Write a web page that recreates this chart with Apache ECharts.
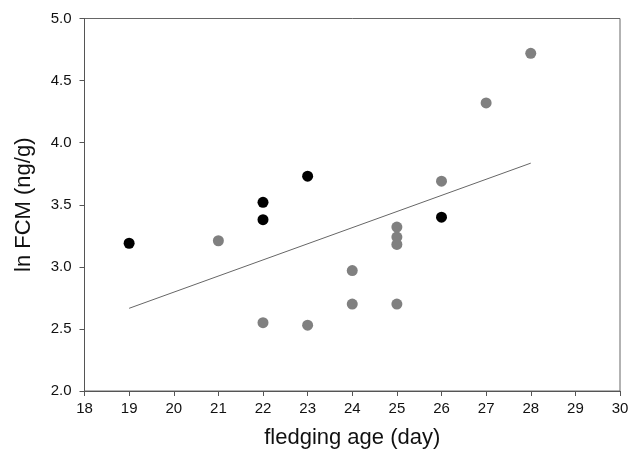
<!DOCTYPE html>
<html><head><meta charset="utf-8">
<script src="https://cdn.jsdelivr.net/npm/echarts@6/dist/echarts.min.js"></script>
<style>html,body{margin:0;padding:0;background:#fff}#c{width:637px;height:449px}</style>
</head><body><div id="c"></div>
<script>
var blackX = [19, 22, 22, 23, 26];
var blackY = [3.19, 3.52, 3.38, 3.73, 3.40];
var grayX = [21, 22, 23, 24, 24, 25, 25, 25, 25, 26, 27, 28];
var grayY = [3.21, 2.55, 2.53, 2.97, 2.70, 3.32, 3.24, 3.18, 2.70, 3.69, 4.32, 4.72];
var fitX = [19, 28];
var fitY = [2.666, 3.835];
var xTicks = [18, 19, 20, 21, 22, 23, 24, 25, 26, 27, 28, 29, 30];
var yTicks = [2.0, 2.5, 3.0, 3.5, 4.0, 4.5, 5.0];

function pairs(xs, ys) { return xs.map(function (x, i) { return [x, ys[i]]; }); }

var chart = echarts.init(document.getElementById('c'));
var font = 'Liberation Sans, Arial, sans-serif';
chart.setOption({
  animation: false,
  grid: { left: 84.5, right: 17, top: 18.5, bottom: 58, show: true, borderColor: '#666', borderWidth: 1,
          containLabel: false, outerBoundsMode: 'none' },
  xAxis: {
    type: 'value', min: xTicks[0], max: xTicks[xTicks.length - 1], interval: 1,
    name: 'fledging age (day)', nameLocation: 'middle', nameGap: 36,
    nameTextStyle: { fontFamily: font, fontSize: 22, color: '#111' },
    axisLine: { lineStyle: { color: '#555' } },
    axisTick: { show: true, length: 5, lineStyle: { color: '#555' } },
    axisLabel: { fontFamily: font, fontSize: 15, color: '#111', margin: 10 },
    splitLine: { show: false }
  },
  yAxis: {
    type: 'value', min: yTicks[0], max: yTicks[yTicks.length - 1], interval: 0.5,
    name: 'ln FCM (ng/g)', nameLocation: 'middle', nameGap: 50, nameRotate: 90,
    nameTextStyle: { fontFamily: font, fontSize: 22, color: '#111' },
    axisLine: { show: true, lineStyle: { color: '#555' } },
    axisTick: { show: true, length: 5, lineStyle: { color: '#555' } },
    axisLabel: { fontFamily: font, fontSize: 15, color: '#111', margin: 13, formatter: function (v) { return v.toFixed(1); } },
    splitLine: { show: false }
  },
  series: [
    { type: 'line', data: pairs(fitX, fitY), symbol: 'none', lineStyle: { color: '#666', width: 1 }, z: 1 },
    { type: 'scatter', data: pairs(grayX, grayY), symbolSize: 11, itemStyle: { color: '#808080', opacity: 1 }, z: 2 },
    { type: 'scatter', data: pairs(blackX, blackY), symbolSize: 11, itemStyle: { color: '#000', opacity: 1 }, z: 3 }
  ]
});
</script></body></html>
